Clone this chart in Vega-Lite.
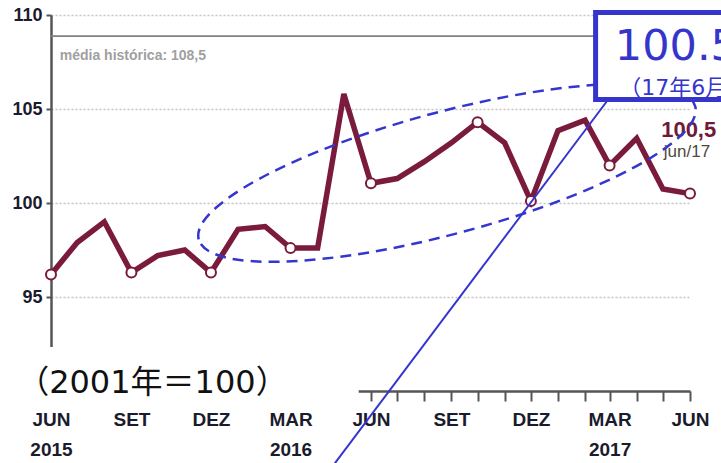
{
  "$schema": "https://vega.github.io/schema/vega-lite/v6.json",
  "width": 639,
  "height": 376,
  "autosize": {"type": "none"},
  "padding": {"left": 51, "top": 15, "right": 31, "bottom": 72},
  "background": "white",
  "config": {"view": {"stroke": null}},
  "datasets": {
    "cpi": [
      {"date": "2015-06-01", "value": 96.2, "marker": true},
      {"date": "2015-07-01", "value": 97.9, "marker": false},
      {"date": "2015-08-01", "value": 99.0, "marker": false},
      {"date": "2015-09-01", "value": 96.3, "marker": true},
      {"date": "2015-10-01", "value": 97.2, "marker": false},
      {"date": "2015-11-01", "value": 97.5, "marker": false},
      {"date": "2015-12-01", "value": 96.3, "marker": true},
      {"date": "2016-01-01", "value": 98.6, "marker": false},
      {"date": "2016-02-01", "value": 98.75, "marker": false},
      {"date": "2016-03-01", "value": 97.6, "marker": true},
      {"date": "2016-04-01", "value": 97.6, "marker": false},
      {"date": "2016-05-01", "value": 105.8, "marker": false},
      {"date": "2016-06-01", "value": 101.05, "marker": true},
      {"date": "2016-07-01", "value": 101.3, "marker": false},
      {"date": "2016-08-01", "value": 102.2, "marker": false},
      {"date": "2016-09-01", "value": 103.2, "marker": false},
      {"date": "2016-10-01", "value": 104.3, "marker": true},
      {"date": "2016-11-01", "value": 103.2, "marker": false},
      {"date": "2016-12-01", "value": 100.1, "marker": true},
      {"date": "2017-01-01", "value": 103.85, "marker": false},
      {"date": "2017-02-01", "value": 104.4, "marker": false},
      {"date": "2017-03-01", "value": 102.0, "marker": true},
      {"date": "2017-04-01", "value": 103.44, "marker": false},
      {"date": "2017-05-01", "value": 100.75, "marker": false},
      {"date": "2017-06-01", "value": 100.5, "marker": true}
    ]
  },
  "encoding": {
    "x": {
      "field": "date",
      "type": "temporal",
      "scale": {
        "type": "utc",
        "domain": [
          {"year": 2015, "month": 6, "date": 1, "utc": true},
          {"year": 2017, "month": 6, "date": 1, "utc": true}
        ],
        "nice": false
      },
      "axis": {
        "title": null,
        "grid": false,
        "tickCount": {"interval": "month", "step": 1},
        "labelExpr": "utcmonth(datum.value)==5 ? (utcyear(datum.value)==2015 ? ['JUN','2015'] : 'JUN') : utcmonth(datum.value)==8 ? 'SET' : utcmonth(datum.value)==11 ? 'DEZ' : utcmonth(datum.value)==2 ? ['MAR', '' + utcyear(datum.value)] : ''",
        "labelOverlap": false,
        "labelFlush": false,
        "labelBound": false,
        "labelAlign": "center",
        "labelBaseline": "top",
        "labelPadding": 9,
        "labelLineHeight": 30,
        "labelFont": "Liberation Sans",
        "labelFontSize": 19,
        "labelFontWeight": "bold",
        "labelColor": "#1b1b2e",
        "domainColor": "#555555",
        "domainWidth": 2.5,
        "tickColor": "#555555",
        "tickWidth": 2,
        "tickSize": 10
      }
    },
    "y": {
      "field": "value",
      "type": "quantitative",
      "scale": {"domain": [90, 110], "nice": false, "zero": false},
      "axis": {
        "title": null,
        "values": [95, 100, 105, 110],
        "grid": true,
        "gridColor": "#c4c4c4",
        "gridDash": [2, 2],
        "gridWidth": 1.5,
        "domainColor": "#555555",
        "domainWidth": 2.5,
        "tickColor": "#555555",
        "tickWidth": 2,
        "tickSize": 5,
        "labelPadding": 4,
        "labelFont": "Liberation Sans",
        "labelFontSize": 18,
        "labelFontWeight": "bold",
        "labelColor": "#1b1b2e"
      }
    }
  },
  "layer": [
    {
      "data": {"values": [{"date": "2015-06-01", "date2": "2017-06-01", "value": 108.88}]},
      "mark": {"type": "rule", "color": "#808080", "strokeWidth": 1.8},
      "encoding": {"x2": {"field": "date2"}}
    },
    {
      "data": {"values": [{"date": "2015-06-11", "value": 107.6, "label": "média histórica: 108,5"}]},
      "mark": {"type": "text", "align": "left", "baseline": "alphabetic", "font": "Liberation Sans", "fontSize": 14, "fontWeight": "bold", "color": "#a0a0a0"},
      "encoding": {"text": {"field": "label"}}
    },
    {
      "data": {"values": [{"date": "2015-03-29", "date2": "2016-05-18", "value": 92.34, "value2": 89.35}]},
      "mark": {"type": "rect", "fill": "white", "stroke": null},
      "encoding": {"x2": {"field": "date2"}, "y2": {"field": "value2"}}
    },
    {
      "data": {"values": [{"date": "2015-09-25", "value": 89.9, "label": "（2001年＝100）"}]},
      "mark": {"type": "text", "align": "center", "baseline": "alphabetic", "font": "DejaVu Sans, Noto Sans CJK JP", "fontSize": 32, "color": "#111111"},
      "encoding": {"text": {"field": "label"}}
    },
    {
      "data": {"name": "cpi"},
      "mark": {"type": "line", "color": "#7a1b3d", "strokeWidth": 5.5, "strokeJoin": "miter"}
    },
    {
      "data": {"name": "cpi"},
      "transform": [{"filter": "datum.marker"}],
      "mark": {"type": "point", "shape": "circle", "filled": true, "fill": "white", "stroke": "#7a1b3d", "strokeWidth": 2, "size": 100, "opacity": 1}
    },
    {
      "data": {"values": [{"date": "2017-07-01", "value": 103.53, "label": "100,5"}]},
      "mark": {"type": "text", "align": "right", "baseline": "alphabetic", "font": "Liberation Sans", "fontSize": 22, "fontWeight": "bold", "color": "#6e1a3a"},
      "encoding": {"text": {"field": "label"}}
    },
    {
      "data": {"values": [{"date": "2017-06-24", "value": 102.46, "label": "jun/17"}]},
      "mark": {"type": "text", "align": "right", "baseline": "alphabetic", "font": "Liberation Sans", "fontSize": 17, "color": "#4d4a3a"},
      "encoding": {"text": {"field": "label"}}
    },
    {
      "data": {"values": [{"date": "2016-08-27", "value": 101.6}]},
      "mark": {
        "type": "point",
        "shape": "M -1 0 C -1 -0.1311 -0.5523 -0.2374 0 -0.2374 C 0.5523 -0.2374 1 -0.1311 1 0 C 1 0.1311 0.5523 0.2374 0 0.2374 C -0.5523 0.2374 -1 0.1311 -1 0 Z",
        "size": 264196,
        "angle": 345,
        "filled": false,
        "stroke": "#3535d0",
        "strokeWidth": 2.5,
        "strokeDash": [11, 7],
        "opacity": 1
      }
    },
    {
      "data": {"values": [{"date": "2017-02-27", "value": 105.48, "date2": "2016-04-15", "value2": 85.8}]},
      "mark": {"type": "rule", "color": "#3535cc", "strokeWidth": 2},
      "encoding": {"x2": {"field": "date2"}, "y2": {"field": "value2"}}
    },
    {
      "data": {"values": [{"date": "2017-02-13", "date2": "2017-07-28", "value": 110.13, "value2": 105.51}]},
      "mark": {"type": "rect", "fill": "white", "stroke": "#3535cc", "strokeWidth": 5},
      "encoding": {"x2": {"field": "date2"}, "y2": {"field": "value2"}}
    },
    {
      "data": {"values": [{"date": "2017-03-07", "value": 107.6, "label": "100.5"}]},
      "mark": {"type": "text", "align": "left", "baseline": "alphabetic", "font": "DejaVu Sans, Noto Sans CJK JP", "fontSize": 43, "color": "#3535cc"},
      "encoding": {"text": {"field": "label"}}
    },
    {
      "data": {"values": [{"date": "2017-03-12", "value": 105.74, "label": "（17年6月）"}]},
      "mark": {"type": "text", "align": "left", "baseline": "alphabetic", "font": "DejaVu Sans, Noto Sans CJK JP", "fontSize": 22, "color": "#3535cc"},
      "encoding": {"text": {"field": "label"}}
    }
  ]
}
